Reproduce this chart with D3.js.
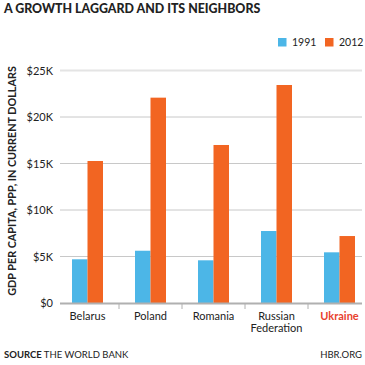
<!DOCTYPE html>
<html>
<head>
<meta charset="utf-8">
<script src="https://cdn.jsdelivr.net/npm/d3@7"></script>
<style>
  body { margin: 0; background: #fff; }
  svg { display: block; font-family: Lato, "Open Sans", sans-serif; }
</style>
</head>
<body>
<svg></svg>
<script>
const countries = ['Belarus', 'Poland', 'Romania', 'Russian Federation', 'Ukraine'];
const years = ['1991', '2012'];
const gdp1991 = [4700, 5620, 4590, 7740, 5450];
const gdp2012 = [15270, 22080, 16990, 23440, 7200];
const yTicks = [0, 5000, 10000, 15000, 20000, 25000];
const yTickLabels = ['$0', '$5K', '$10K', '$15K', '$20K', '$25K'];

const size = {w: 365, h: 365};
const colors = {'1991': '#4cb6e7', '2012': '#f26522'};
const svg = d3.select('svg')
    .attr('width', size.w)
    .attr('height', size.h);

const rows = countries.map((c, i) => ({country: c, '1991': gdp1991[i], '2012': gdp2012[i]}));

// scales
const x0 = d3.scaleBand().domain(countries).range([56, 371]);
const x1 = d3.scaleBand().domain(years).range([16, 47]);
const y = d3.scaleLinear().domain([0, 25000]).range([303, 70.5]);

// title
svg.append('text')
    .attr('x', 4).attr('y', 13)
    .style('font-size', '12.4px').style('font-weight', 900)
    .style('fill', '#222')
    .text('A GROWTH LAGGARD AND ITS NEIGHBORS');

// legend
const legend = svg.append('g').attr('transform', 'translate(278,38)');
years.forEach((yr, i) => {
    let g = legend.append('g').attr('transform', 'translate(' + (i * 47) + ',0)');
    g.append('rect').attr('width', 8.5).attr('height', 8.5).attr('fill', colors[yr]);
    g.append('text').attr('x', 14).attr('y', 8.3)
        .style('font-size', '10.5px').style('fill', '#222').text(yr);
});

// gridlines
svg.append('g').selectAll('line')
    .data(yTicks.slice(1))
    .enter().append('line')
    .attr('x1', 60).attr('x2', 362)
    .attr('y1', d => y(d)).attr('y2', d => y(d))
    .attr('stroke', d => d === 25000 ? '#e4e4e4' : '#c8c8c8')
    .attr('stroke-width', d => d === 25000 ? 2 : 1);

// y tick labels
svg.append('g').selectAll('text')
    .data(yTicks)
    .enter().append('text')
    .attr('x', 53).attr('y', d => y(d) + 4)
    .attr('text-anchor', 'end')
    .style('font-size', '11px').style('fill', '#222')
    .text((d, i) => yTickLabels[i]);

// y axis title
svg.append('text')
    .attr('transform', 'translate(16,181) rotate(-90)')
    .attr('text-anchor', 'middle')
    .style('font-size', '10.8px').style('font-weight', 700).style('fill', '#222')
    .text('GDP PER CAPITA, PPP, IN CURRENT DOLLARS');

// bars
const groups = svg.append('g').selectAll('g')
    .data(rows)
    .enter().append('g')
    .attr('transform', d => 'translate(' + x0(d.country) + ',0)');

groups.selectAll('rect')
    .data(d => years.map(yr => ({year: yr, value: d[yr]})))
    .enter().append('rect')
    .attr('x', d => x1(d.year))
    .attr('width', x1.bandwidth())
    .attr('y', d => y(d.value))
    .attr('height', d => y(0) - y(d.value))
    .attr('fill', d => colors[d.year]);

// baseline and category ticks
svg.append('line')
    .attr('x1', 60).attr('x2', 362)
    .attr('y1', y(0) + 0.5).attr('y2', y(0) + 0.5)
    .attr('stroke', '#b0b0b0').attr('stroke-width', 2);

svg.append('g').selectAll('line')
    .data(countries.slice(1))
    .enter().append('line')
    .attr('x1', d => x0(d)).attr('x2', d => x0(d))
    .attr('y1', y(0)).attr('y2', y(0) + 6)
    .attr('stroke', '#b0b0b0').attr('stroke-width', 1);

// category labels
const catLabels = svg.append('g').selectAll('text')
    .data(countries)
    .enter().append('text')
    .attr('x', d => x0(d) + x0.bandwidth() / 2)
    .attr('y', 320)
    .attr('text-anchor', 'middle')
    .style('font-size', '11px')
    .style('font-weight', d => d === 'Ukraine' ? 700 : 400)
    .style('fill', d => d === 'Ukraine' ? '#e8422e' : '#222');

catLabels.each(function (d) {
    let words = d === 'Russian Federation' ? ['Russian', 'Federation'] : [d];
    d3.select(this).selectAll('tspan')
        .data(words)
        .enter().append('tspan')
        .attr('x', x0(d) + x0.bandwidth() / 2)
        .attr('dy', (w, i) => i === 0 ? 0 : 11.5)
        .text(w => w);
});

// footer
const src = svg.append('text')
    .attr('x', 4).attr('y', 358)
    .style('font-size', '9.5px').style('fill', '#222');
src.append('tspan').style('font-weight', 700).text('SOURCE');
src.append('tspan').text(' THE WORLD BANK');

svg.append('text')
    .attr('x', 362).attr('y', 358)
    .attr('text-anchor', 'end')
    .style('font-size', '9.5px').style('fill', '#222')
    .text('HBR.ORG');
</script>
</body>
</html>
